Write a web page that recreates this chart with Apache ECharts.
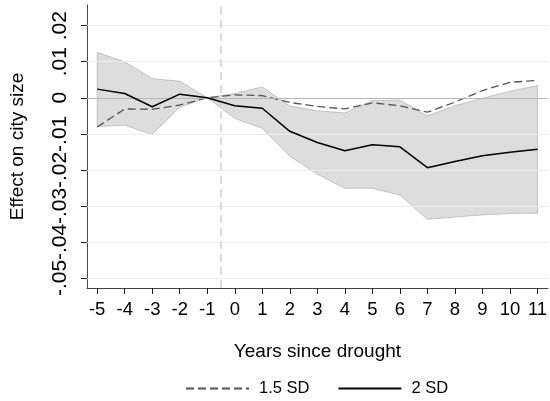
<!DOCTYPE html>
<html><head><meta charset="utf-8">
<script src="https://cdn.jsdelivr.net/npm/echarts@6/dist/echarts.min.js"></script>
<style>html,body{margin:0;padding:0;background:#fff}#c{width:550px;height:401px}</style>
</head><body><div id="c"></div><script>
const years = [-5,-4,-3,-2,-1,0,1,2,3,4,5,6,7,8,9,10,11];
const sd15 = [-0.0081,-0.0031,-0.0032,-0.0020,0,0.0008,0.0006,-0.0013,-0.0024,-0.0031,-0.0014,-0.0022,-0.0040,-0.0012,0.0020,0.0043,0.0048];
const sd2 = [0.0024,0.0012,-0.0025,0.0010,0,-0.0022,-0.0029,-0.0093,-0.0124,-0.0147,-0.0130,-0.0136,-0.0194,-0.0177,-0.0161,-0.0151,-0.0143];
const ciUpper = [0.0126,0.0100,0.0053,0.0046,0,0.0012,0.0030,-0.0023,-0.0036,-0.0042,-0.0008,-0.0006,-0.0050,-0.0022,-0.0001,0.0018,0.0034];
const ciLower = [-0.0080,-0.0076,-0.0102,-0.0026,0,-0.0057,-0.0085,-0.0162,-0.0212,-0.0251,-0.0251,-0.0270,-0.0337,-0.0331,-0.0325,-0.0321,-0.0320];
const yTicks = [-0.05,-0.04,-0.03,-0.02,-0.01,0,0.01,0.02];
const yTickLabels = ['-.05','-.04','-.03','-.02','-.01','0','.01','.02'];
const xTicks = years;
const droughtLine = -0.5;

const FONT = "'Liberation Sans', Arial, Helvetica, sans-serif";
const chart = echarts.init(document.getElementById('c'), null, {renderer:'canvas'});
const pair = (xs, ys) => xs.map((x,i)=>[x, ys[i]]);

chart.setOption({
  animation:false,
  backgroundColor:'#fff',
  grid:{left:83, right:0, top:5, bottom:113, containLabel:false},
  xAxis:{
    type:'value', min:-5.37, max:11.38,
    name:'Years since drought', nameLocation:'middle', nameGap:54,
    nameTextStyle:{fontFamily:FONT, fontSize:19, color:'#000'},
    axisLine:{show:true, onZero:false, lineStyle:{color:'#444', width:1}},
    axisTick:{show:true, length:6, customValues:xTicks, lineStyle:{color:'#222'}},
    axisLabel:{customValues:xTicks, fontFamily:FONT, fontSize:18.5, color:'#000', margin:12},
    splitLine:{show:false}
  },
  yAxis:{
    type:'value', min:-0.05277, max:0.02574,
    name:'Effect on city size', nameLocation:'middle', nameGap:60,
    nameTextStyle:{fontFamily:FONT, fontSize:19, color:'#000'},
    axisLine:{show:true, onZero:false, lineStyle:{color:'#444', width:1}},
    axisTick:{show:true, length:6, customValues:yTicks, lineStyle:{color:'#222'}},
    axisLabel:{customValues:yTicks, rotate:90, fontFamily:FONT, fontSize:21, color:'#000', margin:16,
      formatter:function(v){ const i = yTicks.findIndex(t=>Math.abs(t-v)<1e-9); return i>=0 ? yTickLabels[i] : ''; }},
    splitLine:{show:false}
  },
  legend:{
    data:['1.5 SD','2 SD'], left:180, top:375, itemWidth:63, itemHeight:16, itemGap:28,
    itemStyle:{opacity:0},
    textStyle:{fontFamily:FONT, fontSize:16.5, color:'#000', padding:[0,0,0,5]}
  },
  series:[
    {
      name:'grid', type:'line', data:[], z:1, silent:true,
      markLine:{silent:true, symbol:'none', label:{show:false}, animation:false,
        lineStyle:{color:'#e6eef0', width:1, type:'solid'},
        data: yTicks.filter(v=>v!==0).map(v=>({yAxis:v}))}
    },
    {
      name:'band', type:'custom', z:2, silent:true,
      data: years.map((x,i)=>[x, ciUpper[i], ciLower[i]]),
      encode:{x:0, y:[1,2]},
      renderItem:function(params, api){
        if(params.dataIndex!==0) return null;
        const pts=[];
        for(let i=0;i<years.length;i++) pts.push(api.coord([years[i], ciUpper[i]]));
        for(let i=years.length-1;i>=0;i--) pts.push(api.coord([years[i], ciLower[i]]));
        return {type:'polygon', shape:{points:pts}, style:{fill:'rgba(170,170,170,0.40)', stroke:'rgba(160,160,160,0.55)', lineWidth:1}};
      }
    },
    {
      name:'ref', type:'line', data:[], z:3, silent:true,
      markLine:{silent:true, symbol:'none', label:{show:false}, animation:false,
        data:[
          {yAxis:0, lineStyle:{color:'#b4b8b8', width:1.2, type:'solid'}},
          {xAxis:droughtLine, lineStyle:{color:'#cfcfcf', width:1.5, type:[8,5]}}
        ]}
    },
    {
      name:'1.5 SD', type:'line', z:4, data:pair(years, sd15), symbol:'none',
      lineStyle:{color:'#555', width:1.3, type:[8,4]}, itemStyle:{color:'#555'}
    },
    {
      name:'2 SD', type:'line', z:5, data:pair(years, sd2), symbol:'none',
      lineStyle:{color:'#000', width:1.5, type:'solid'}, itemStyle:{color:'#000'}
    }
  ]
});
</script></body></html>
